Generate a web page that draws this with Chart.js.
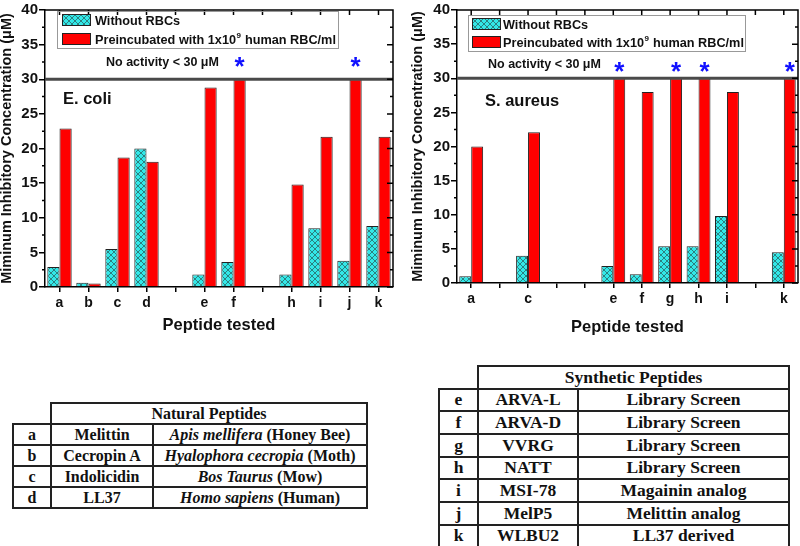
<!DOCTYPE html>
<html>
<head>
<meta charset="utf-8">
<script src="https://cdn.jsdelivr.net/npm/chart.js@4.4.0/dist/chart.umd.min.js"></script>
<style>
  body { margin: 0; background: #fff; width: 800px; height: 546px; position: relative; overflow: hidden; }
  canvas { position: absolute; top: 0; }
  #ecoli { left: 0; }
  #saureus { left: 400px; }
  table { position: absolute; border-collapse: collapse; table-layout: fixed;
          font-family: "Liberation Serif", "Times New Roman", serif; font-weight: bold; color: #111; }
  td { border: 2px solid #222; padding: 0; text-align: center; line-height: 1; white-space: nowrap; }
  td.blank { border-top: none; border-left: none; }
  #natural { left: 12px; top: 402px; width: 354px; font-size: 16px; }
  #natural td { height: 19px; }
  #synthetic { left: 438px; top: 365px; width: 350px; font-size: 17.5px; }
  #synthetic td { height: 20.7px; }
</style>
</head>
<body>
<canvas id="ecoli" width="400" height="345"></canvas>
<canvas id="saureus" width="400" height="345"></canvas>
<table id="natural"></table>
<table id="synthetic"></table>
<script>
// Series names
var seriesNames = ['Without RBCs', 'Preincubated with 1x10⁹ human RBC/ml'];
var noActivityLevel = 30;

// E. coli panel (empty slots keep the gaps on the axis)
var ecoliLabels = ['a', 'b', 'c', 'd', '', 'e', 'f', '', 'h', 'i', 'j', 'k'];
var ecoliWithout = [2.9, 0.6, 5.5, 20.0, null, 1.8, 3.6, null, 1.8, 8.5, 3.8, 8.8];
var ecoliPreinc = [22.9, 0.5, 18.7, 18.1, null, 28.8, 30, null, 14.8, 21.7, 30, 21.7];

// S. aureus panel
var saureusLabels = ['a', '', 'c', '', '', 'e', 'f', 'g', 'h', 'i', '', 'k'];
var saureusWithout = [1.0, null, 4.0, null, null, 2.5, 1.3, 5.4, 5.4, 9.8, null, 4.5];
var saureusPreinc = [20.0, null, 22.1, null, null, 30, 28.0, 30, 30, 28.0, null, 30];

// Tables under the charts
var naturalCodes = ['a', 'b', 'c', 'd'];
var naturalNames = ['Melittin', 'Cecropin A', 'Indolicidin', 'LL37'];
var naturalSpecies = ['Apis mellifera', 'Hyalophora cecropia', 'Bos Taurus', 'Homo sapiens'];
var naturalCommon = ['Honey Bee', 'Moth', 'Mow', 'Human'];

var synthCodes = ['e', 'f', 'g', 'h', 'i', 'j', 'k'];
var synthNames = ['ARVA-L', 'ARVA-D', 'VVRG', 'NATT', 'MSI-78', 'MelP5', 'WLBU2'];
var synthSource = ['Library Screen', 'Library Screen', 'Library Screen', 'Library Screen',
                   'Magainin analog', 'Melittin analog', 'LL37 derived'];

var F = '"Liberation Sans", Arial, sans-serif';

// per-panel extras drawn by the overlay plugin
var extras = {
  ecoli: {
    yWidth: 45, padRight: 7, xHeight: 58, yTitlePad: 0, xTitlePad: 11.5,
    box: [57, 11, 281, 37], swX: 62, rows: [14, 33], txtX: 95,
    note: [106, 66], species: 'E. coli', spPos: [63, 104], starLift: -4
  },
  saureus: {
    yWidth: 57, padRight: 2, xHeight: 62, yTitlePad: 10.5, xTitlePad: 9.5,
    box: [68, 15, 277, 36], swX: 72, rows: [18, 36], txtX: 103,
    note: [88, 68], species: 'S. aureus', spPos: [85, 106], starLift: 2
  }
};

// cyan cross-hatch fill
function hatch() {
    var c = document.createElement('canvas');
    c.width = 6; c.height = 6;
    var g = c.getContext('2d');
    g.fillStyle = '#33e8e8';
    g.fillRect(0, 0, 6, 6);
    g.strokeStyle = '#2a6464';
    g.lineWidth = 0.8;
    g.beginPath();
    g.moveTo(0, 0); g.lineTo(6, 6);
    g.moveTo(6, 0); g.lineTo(0, 6);
    g.stroke();
    return g.createPattern(c, 'repeat');
}

var overlay = {
    id: 'overlay',
    afterDatasetsDraw: function(chart) {
        var o = extras[chart.canvas.id];
        var ctx = chart.ctx, a = chart.chartArea;
        var x = chart.scales.x, y = chart.scales.y;
        ctx.save();

        // "no activity" limit line
        var yt = y.getPixelForValue(noActivityLevel);
        ctx.strokeStyle = '#4a4a4a';
        ctx.lineWidth = 3;
        ctx.beginPath(); ctx.moveTo(a.left, yt); ctx.lineTo(a.right, yt); ctx.stroke();

        // top/right frame, minor ticks and mirrored ticks
        ctx.strokeStyle = '#000';
        ctx.lineWidth = 1.5;
        ctx.beginPath();
        ctx.moveTo(a.left, a.top); ctx.lineTo(a.right, a.top); ctx.lineTo(a.right, a.bottom);
        for (var v = 0; v <= 40; v += 2.5) {
            var p = y.getPixelForValue(v), major = v % 5 === 0;
            ctx.moveTo(a.right, p); ctx.lineTo(a.right - (major ? 6 : 3), p);
            if (!major) { ctx.moveTo(a.left, p); ctx.lineTo(a.left - 3, p); }
        }
        x.ticks.forEach(function(t, i) {
            var px = x.getPixelForTick(i);
            ctx.moveTo(px, a.top); ctx.lineTo(px, a.top + 5);
        });
        ctx.stroke();

        // legend box
        ctx.strokeStyle = '#999';
        ctx.lineWidth = 1;
        ctx.strokeRect(o.box[0] + 0.5, o.box[1] + 0.5, o.box[2], o.box[3]);
        chart.data.datasets.forEach(function(ds, i) {
            var top = o.rows[i];
            ctx.fillStyle = ds.backgroundColor;
            ctx.fillRect(o.swX, top, 28, 11);
            ctx.strokeStyle = '#222';
            ctx.strokeRect(o.swX + 0.5, top + 0.5, 28, 11);
            ctx.fillStyle = '#111';
            ctx.textBaseline = 'alphabetic';
            ctx.textAlign = 'left';
            var parts = ds.label.split('⁹');
            ctx.font = 'bold 12.7px ' + F;
            ctx.fillText(parts[0], o.txtX, top + 11);
            if (parts.length > 1) {
                var w = ctx.measureText(parts[0]).width;
                ctx.font = 'bold 8px ' + F;
                ctx.fillText('9', o.txtX + w + 0.5, top + 5);
                var w2 = ctx.measureText('9').width;
                ctx.font = 'bold 12.7px ' + F;
                ctx.fillText(parts[1], o.txtX + w + w2 + 1, top + 11);
            }
        });

        // notes
        ctx.fillStyle = '#111';
        ctx.font = 'bold 12.5px ' + F;
        ctx.fillText('No activity < ' + noActivityLevel + ' μM', o.note[0], o.note[1]);
        ctx.font = 'bold 16.5px ' + F;
        ctx.fillText(o.species, o.spPos[0], o.spPos[1]);

        // asterisks over bars at the limit
        var meta = chart.getDatasetMeta(1);
        ctx.fillStyle = '#1010ff';
        ctx.font = 'bold 26px ' + F;
        ctx.textAlign = 'center';
        chart.data.datasets[1].data.forEach(function(val, i) {
            if (val !== null && val >= noActivityLevel) {
                ctx.fillText('*', meta.data[i].x, yt + o.starLift);
            }
        });
        ctx.restore();
    }
};

function makeChart(id, labels, without, preinc) {
    var o = extras[id];
    return new Chart(document.getElementById(id), {
        type: 'bar',
        data: {
            labels: labels,
            datasets: [
                { label: seriesNames[0], data: without, backgroundColor: hatch(), borderColor: '#222', borderWidth: 1 },
                { label: seriesNames[1], data: preinc, backgroundColor: '#ff0000', borderColor: '#222', borderWidth: 1 }
            ]
        },
        options: {
            responsive: false,
            animation: false,
            devicePixelRatio: 1,
            layout: { padding: { top: 7, right: o.padRight, left: 0, bottom: 0 } },
            datasets: { bar: { categoryPercentage: 0.84, barPercentage: 1 } },
            plugins: { legend: { display: false }, tooltip: { enabled: false } },
            scales: {
                x: {
                    grid: { offset: false, drawOnChartArea: false, tickLength: 5, color: '#000', lineWidth: 1.5 },
                    border: { color: '#000', width: 1.5 },
                    ticks: { color: '#111', font: { family: F, size: 14, weight: 'bold' }, padding: 3, maxRotation: 0, autoSkip: false },
                    title: { display: true, text: 'Peptide tested', color: '#111',
                             font: { family: F, size: 16.5, weight: 'bold', lineHeight: 1 },
                             padding: { top: 0, bottom: o.xTitlePad } },
                    afterFit: function(s) { s.height = o.xHeight; }
                },
                y: {
                    min: 0, max: 40,
                    grid: { drawOnChartArea: false, tickLength: 6, color: '#000', lineWidth: 1.5 },
                    border: { color: '#000', width: 1.5 },
                    ticks: { stepSize: 5, color: '#111', font: { family: F, size: 15, weight: 'bold' }, padding: 1 },
                    title: { display: true, text: 'Miminum Inhibitory Concentration (μM)', color: '#111',
                             font: { family: F, size: 14.5, weight: 'bold', lineHeight: 1 },
                             padding: { top: o.yTitlePad, bottom: 0 } },
                    afterFit: function(s) { s.width = o.yWidth; }
                }
            }
        },
        plugins: [overlay]
    });
}

makeChart('ecoli', ecoliLabels, ecoliWithout, ecoliPreinc);
makeChart('saureus', saureusLabels, saureusWithout, saureusPreinc);

// tables
function buildTable(id, title, widths, codes, names, third) {
    var t = document.getElementById(id);
    var html = '<colgroup>' + widths.map(function(w) { return '<col style="width:' + w + 'px">'; }).join('') + '</colgroup>';
    html += '<tr><td class="blank"></td><td colspan="2">' + title + '</td></tr>';
    codes.forEach(function(c, i) {
        html += '<tr><td>' + c + '</td><td>' + names[i] + '</td><td>' + third[i] + '</td></tr>';
    });
    t.innerHTML = html;
}
buildTable('natural', 'Natural Peptides', [38, 102, 214], naturalCodes, naturalNames,
    naturalSpecies.map(function(s, i) { return '<i>' + s + '</i> (' + naturalCommon[i] + ')'; }));
buildTable('synthetic', 'Synthetic Peptides', [39, 100, 211], synthCodes, synthNames, synthSource);
</script>
</body>
</html>
